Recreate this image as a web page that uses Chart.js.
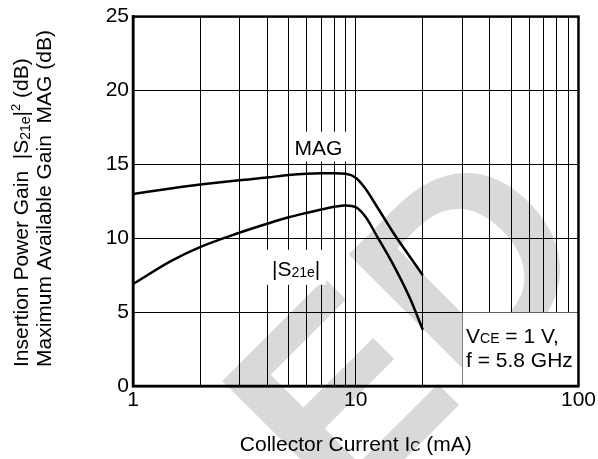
<!DOCTYPE html>
<html>
<head>
<meta charset="utf-8">
<script src="https://cdn.jsdelivr.net/npm/chart.js@4.4.1/dist/chart.umd.min.js"></script>
<style>
  body { margin: 0; background: #fff; }
  canvas { display: block; }
</style>
</head>
<body>
<canvas id="mycanvas" width="598" height="459"></canvas>
<script>
// collector current Ic (mA)
var current = [1, 1.5, 2, 3, 4, 5, 6, 7, 8, 9, 10, 11, 12.5, 15, 17.5, 20];
// maximum available gain MAG (dB)
var magGain = [13.0, 13.38, 13.63, 13.93, 14.11, 14.28, 14.37, 14.4, 14.4, 14.36, 14.1, 13.4, 12.1, 10.2, 8.75, 7.5];
// insertion power gain |S21e|^2 (dB)
var s21Gain = [6.9, 8.5, 9.4, 10.37, 10.98, 11.42, 11.71, 11.94, 12.13, 12.22, 12.1, 11.5, 10.1, 8.0, 5.95, 3.8];

var xGrid = [1, 2, 3, 4, 5, 6, 7, 8, 9, 10, 20, 30, 40, 50, 60, 70, 80, 90, 100];
var xLabels = [1, 10, 100];
var yTicks = [0, 5, 10, 15, 20, 25];

var FONT = '"Liberation Sans", Arial, sans-serif';

function toPoints(xs, ys) {
  var pts = [];
  for (var i in xs) pts.push({x: xs[i], y: ys[i]});
  return pts;
}

// draw a run of text pieces, some smaller (sub/superscripts)
function richText(ctx, parts, x, y, align) {
  var w = 0;
  parts.forEach(function(p) {
    ctx.font = (p.size || 21) + 'px ' + FONT;
    p.w = ctx.measureText(p.t).width;
    w += p.w;
  });
  var cx = align === 'center' ? x - w / 2 : (align === 'right' ? x - w : x);
  ctx.textAlign = 'left';
  ctx.textBaseline = 'alphabetic';
  parts.forEach(function(p) {
    ctx.font = (p.size || 21) + 'px ' + FONT;
    ctx.fillText(p.t, cx, y + (p.dy || 0));
    cx += p.w;
  });
  return w;
}

var decor = {
  id: 'decor',
  beforeDraw: function(chart) {
    var ctx = chart.ctx;
    ctx.save();
    ctx.fillStyle = '#fff';
    ctx.fillRect(0, 0, chart.width, chart.height);
    // watermark
    ctx.translate(340, 524);
    ctx.rotate(-Math.PI / 4);
    ctx.font = 'bold 268px ' + FONT;
    ctx.fillStyle = '#d9d9d9';
    ctx.textBaseline = 'alphabetic';
    ctx.fillText('ED', 0, 0);
    ctx.restore();
  },
  afterDraw: function(chart) {
    var ctx = chart.ctx;
    var a = chart.chartArea;
    var xs = chart.scales.x, ys = chart.scales.y;
    ctx.save();
    ctx.fillStyle = '#000';

    // condition box
    var bx = xs.getPixelForValue(30), by = ys.getPixelForValue(5);
    ctx.fillStyle = '#fff';
    ctx.fillRect(bx + 0.5, by + 0.5, a.right - bx - 1.5, a.bottom - by - 1.5);
    ctx.fillStyle = '#000';
    richText(ctx, [{t: 'V'}, {t: 'CE', size: 14}, {t: ' = 1 V,'}], bx + 4, by + 31, 'left');
    richText(ctx, [{t: 'f = 5.8 GHz'}], bx + 4, by + 55, 'left');

    // curve labels
    var mx = xs.getPixelForValue(6.8), my = ys.getPixelForValue(16.2);
    ctx.fillStyle = '#fff';
    ctx.fillRect(mx - 28, my - 15, 56, 30);
    ctx.fillStyle = '#000';
    richText(ctx, [{t: 'MAG'}], mx, my + 8, 'center');

    var sx = xs.getPixelForValue(5.4), sy = ys.getPixelForValue(8.0);
    ctx.fillStyle = '#fff';
    ctx.fillRect(sx - 30, sy - 18, 60, 35);
    ctx.fillStyle = '#000';
    richText(ctx, [{t: '|S'}, {t: '21e', size: 14, dy: 1}, {t: '|'}], sx, sy + 8, 'center');

    // frame
    ctx.strokeStyle = '#000';
    ctx.lineWidth = 2.5;
    ctx.strokeRect(a.left, a.top, a.right - a.left, a.bottom - a.top);

    // axis titles
    richText(ctx, [{t: 'Collector Current I'}, {t: 'C', size: 14}, {t: ' (mA)'}], (a.left + a.right) / 2, 451, 'center');
    ctx.translate(0, 367);
    ctx.rotate(-Math.PI / 2);
    richText(ctx, [{t: 'Insertion Power Gain  |S'}, {t: '21e', size: 14, dy: 2}, {t: '|'}, {t: '2', size: 13, dy: -8}, {t: ' (dB)'}], 0, 27.5, 'left');
    richText(ctx, [{t: 'Maximum Available Gain  MAG (dB)'}], 0, 51, 'left');
    ctx.restore();
  }
};

var chartdata = {
  datasets: [
    {
      label: 'MAG',
      data: toPoints(current, magGain),
      borderColor: '#000',
      borderWidth: 2.5,
      pointRadius: 0,
      showLine: true,
      cubicInterpolationMode: 'monotone'
    },
    {
      label: '|S21e|',
      data: toPoints(current, s21Gain),
      borderColor: '#000',
      borderWidth: 2.5,
      pointRadius: 0,
      showLine: true,
      cubicInterpolationMode: 'monotone'
    }
  ]
};

var ctx = document.getElementById('mycanvas');

var gainChart = new Chart(ctx, {
  type: 'scatter',
  data: chartdata,
  plugins: [decor],
  options: {
    responsive: false,
    animation: false,
    devicePixelRatio: 1,
    layout: { padding: { top: 14, right: 16, left: 0, bottom: 0 } },
    plugins: { legend: { display: false }, tooltip: { enabled: false } },
    scales: {
      x: {
        type: 'logarithmic',
        min: 1,
        max: 100,
        afterBuildTicks: function(scale) {
          scale.ticks = xGrid.map(function(v) { return {value: v}; });
        },
        afterFit: function(scale) { scale.height = 73; },
        ticks: {
          autoSkip: false,
          maxRotation: 0,
          padding: 2,
          color: '#000',
          font: { size: 21, family: FONT },
          callback: function(value) {
            return xLabels.indexOf(value) >= 0 ? String(value) : '';
          }
        },
        grid: { color: '#000', lineWidth: 1, drawTicks: false },
        border: { color: '#000', width: 2.5 }
      },
      y: {
        min: 0,
        max: 25,
        afterBuildTicks: function(scale) {
          scale.ticks = yTicks.map(function(v) { return {value: v}; });
        },
        afterFit: function(scale) { scale.width = 133; },
        ticks: {
          padding: 4,
          color: '#000',
          font: { size: 21, family: FONT }
        },
        grid: { color: '#000', lineWidth: 1, drawTicks: false },
        border: { color: '#000', width: 2.5 }
      }
    }
  }
});
</script>
</body>
</html>
